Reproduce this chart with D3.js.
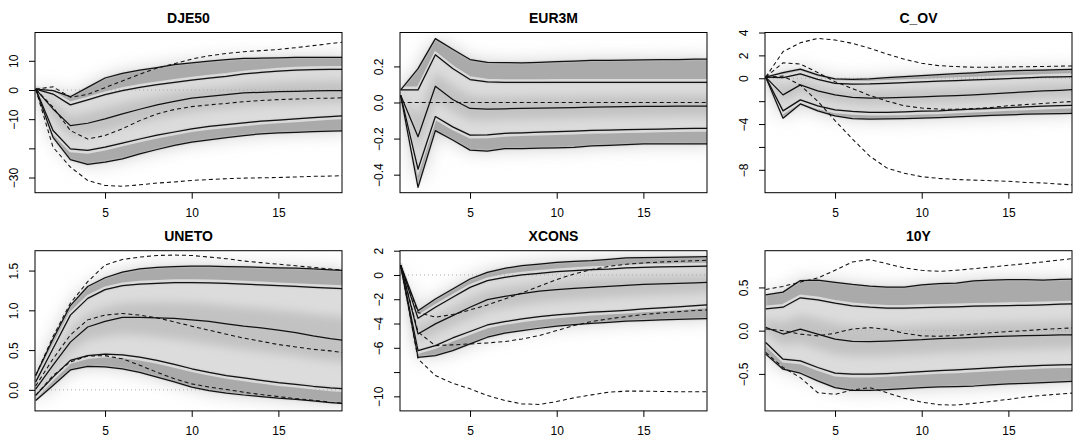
<!DOCTYPE html>
<html>
<head>
<meta charset="utf-8">
<script src="https://cdn.jsdelivr.net/npm/d3@7"></script>
<style>
  html, body { margin: 0; padding: 0; background: #ffffff; }
  svg { display: block; font-family: "Liberation Sans", Arial, Helvetica, sans-serif; }
</style>
</head>
<body>
<script>
// ---------------- DATA ----------------
const horizon = [1, 2, 3, 4, 5, 6, 7, 8, 9, 10, 11, 12, 13, 14, 15, 16, 17, 18, 19];
const xTicks = [5, 10, 15];
const panelNames = ["DJE50", "EUR3M", "C_OV", "UNETO", "XCONS", "10Y"];

// DJE50
const dje50_hi95 = [0.3, -0.2, -2.3, 0.9, 4.1, 5.7, 6.8, 7.7, 8.7, 9.3, 9.9, 10.4, 10.8, 10.9, 11.0, 11.2, 11.2, 11.2, 11.2];
const dje50_hi68 = [0.3, -1.4, -5.1, -3.4, -1.6, -0.2, 0.9, 1.8, 2.6, 3.4, 4.1, 4.7, 5.5, 6.0, 6.5, 6.8, 7.0, 7.1, 7.1];
const dje50_med  = [0.3, -6.5, -12.2, -11.4, -9.9, -8.2, -6.6, -5.1, -3.9, -2.8, -2.2, -1.6, -1.0, -0.8, -0.6, -0.5, -0.3, -0.25, -0.2];
const dje50_lo68 = [0.3, -13.9, -20.2, -20.7, -19.6, -18.2, -16.8, -15.5, -14.4, -13.3, -12.5, -11.9, -11.3, -10.7, -10.3, -9.9, -9.5, -9.1, -8.8];
const dje50_lo95 = [0.3, -16.2, -23.9, -25.5, -24.7, -23.6, -21.9, -20.4, -19.0, -17.9, -17.1, -16.3, -15.6, -15.0, -14.7, -14.5, -14.3, -14.1, -14.0];
const dje50_dashA = [0.3, 1.1, -2.5, -1.5, 0.8, 3.1, 5.4, 7.5, 9.0, 10.6, 11.7, 12.5, 13.1, 13.5, 13.9, 14.5, 15.2, 15.9, 16.6];
const dje50_dashB = [0.3, -5.9, -13.9, -16.8, -15.6, -13.3, -10.5, -8.2, -6.7, -5.7, -5.1, -4.6, -4.0, -3.6, -3.3, -3.1, -2.9, -2.8, -2.6];
const dje50_dashC = [0.3, -19.6, -26.4, -31.0, -32.7, -33.0, -32.5, -31.9, -31.5, -31.0, -30.7, -30.4, -30.2, -30.1, -30.0, -29.8, -29.6, -29.5, -29.3];
const dje50_yTicks = [-30, -20, -10, 0, 10];
const dje50_yLabels = ["\u221230", "", "\u221210", "0", "10"];

// EUR3M
const eur3m_hi95 = [0.07, 0.188, 0.354, 0.295, 0.238, 0.223, 0.221, 0.220, 0.223, 0.227, 0.230, 0.234, 0.234, 0.235, 0.236, 0.237, 0.238, 0.240, 0.240];
const eur3m_hi68 = [0.07, 0.07, 0.265, 0.188, 0.127, 0.114, 0.111, 0.111, 0.111, 0.112, 0.112, 0.112, 0.112, 0.112, 0.112, 0.112, 0.112, 0.112, 0.112];
const eur3m_med  = [0.04, -0.19, 0.09, 0.017, -0.033, -0.037, -0.035, -0.033, -0.031, -0.030, -0.028, -0.026, -0.024, -0.023, -0.022, -0.021, -0.020, -0.020, -0.020];
const eur3m_lo68 = [0.04, -0.37, -0.078, -0.135, -0.181, -0.180, -0.171, -0.168, -0.164, -0.162, -0.159, -0.155, -0.153, -0.151, -0.149, -0.147, -0.145, -0.144, -0.144];
const eur3m_lo95 = [0.04, -0.47, -0.156, -0.208, -0.264, -0.269, -0.256, -0.256, -0.253, -0.251, -0.249, -0.240, -0.238, -0.234, -0.230, -0.229, -0.229, -0.230, -0.230];
const eur3m_dashA = [0, 0, 0, 0, 0, 0, 0, 0, 0, 0, 0, 0, 0, 0, 0, 0, 0, 0, 0];
const eur3m_yTicks = [-0.4, -0.2, 0.0, 0.2];
const eur3m_yLabels = ["\u22120.4", "\u22120.2", "0.0", "0.2"];

// C_OV
const cov_hi95 = [0.1, 0.5, 0.8, 0.3, -0.06, -0.1, -0.05, 0.06, 0.15, 0.23, 0.32, 0.4, 0.48, 0.58, 0.64, 0.68, 0.72, 0.76, 0.78];
const cov_hi68 = [0.1, 0.06, 0.38, -0.1, -0.44, -0.52, -0.5, -0.44, -0.38, -0.32, -0.26, -0.2, -0.15, -0.09, -0.03, 0.03, 0.09, 0.12, 0.15];
const cov_med  = [0.1, -1.45, -0.58, -1.1, -1.45, -1.66, -1.74, -1.71, -1.68, -1.63, -1.57, -1.51, -1.45, -1.37, -1.28, -1.19, -1.1, -1.05, -0.98];
const cov_lo68 = [0.1, -2.85, -1.89, -2.41, -2.76, -2.9, -2.97, -2.97, -2.94, -2.88, -2.85, -2.76, -2.7, -2.64, -2.56, -2.5, -2.44, -2.38, -2.35];
const cov_lo95 = [0.1, -3.49, -2.24, -2.85, -3.28, -3.52, -3.58, -3.55, -3.52, -3.49, -3.43, -3.37, -3.31, -3.25, -3.2, -3.14, -3.11, -3.08, -3.05];
const cov_dashA = [0.1, 2.33, 3.1, 3.49, 3.34, 3.05, 2.62, 2.12, 1.66, 1.31, 1.1, 1.02, 0.96, 0.96, 0.99, 1.01, 1.03, 1.06, 1.08];
const cov_dashB = [0.1, 1.35, 1.25, 0.5, -0.3, -0.9, -1.5, -2.0, -2.4, -2.6, -2.7, -2.7, -2.65, -2.55, -2.4, -2.3, -2.2, -2.1, -2.0];
const cov_dashC = [0.1, 0.2, -0.6, -2.0, -3.7, -5.3, -6.8, -7.85, -8.3, -8.6, -8.75, -8.85, -8.9, -8.95, -9.0, -9.1, -9.15, -9.25, -9.35];
const cov_yTicks = [-8, -6, -4, -2, 0, 2, 4];
const cov_yLabels = ["\u22128", "", "\u22124", "", "0", "2", "4"];

// UNETO
const uneto_hi95 = [0.18, 0.64, 1.06, 1.30, 1.41, 1.48, 1.52, 1.54, 1.55, 1.555, 1.555, 1.55, 1.548, 1.54, 1.535, 1.53, 1.52, 1.51, 1.50];
const uneto_hi68 = [0.10, 0.52, 0.94, 1.15, 1.26, 1.31, 1.33, 1.34, 1.35, 1.35, 1.345, 1.34, 1.33, 1.32, 1.31, 1.30, 1.29, 1.28, 1.27];
const uneto_med  = [0.01, 0.31, 0.60, 0.79, 0.86, 0.91, 0.91, 0.905, 0.90, 0.88, 0.86, 0.83, 0.80, 0.78, 0.75, 0.72, 0.68, 0.645, 0.615];
const uneto_lo68 = [-0.07, 0.16, 0.37, 0.43, 0.45, 0.44, 0.41, 0.37, 0.32, 0.265, 0.22, 0.18, 0.15, 0.12, 0.09, 0.07, 0.045, 0.025, 0.01];
const uneto_lo95 = [-0.135, 0.055, 0.25, 0.295, 0.29, 0.265, 0.22, 0.16, 0.10, 0.035, -0.01, -0.04, -0.065, -0.085, -0.105, -0.12, -0.14, -0.16, -0.175];
const uneto_dashA = [0.18, 0.67, 1.09, 1.36, 1.57, 1.64, 1.67, 1.69, 1.695, 1.69, 1.67, 1.65, 1.62, 1.60, 1.58, 1.56, 1.54, 1.52, 1.50];
const uneto_dashB = [0.05, 0.39, 0.69, 0.88, 0.94, 0.96, 0.94, 0.905, 0.855, 0.80, 0.75, 0.70, 0.65, 0.61, 0.57, 0.54, 0.51, 0.49, 0.46];
const uneto_dashC = [-0.07, 0.18, 0.35, 0.425, 0.43, 0.39, 0.31, 0.22, 0.14, 0.075, 0.035, 0.005, -0.03, -0.06, -0.085, -0.11, -0.13, -0.155, -0.175];
const uneto_yTicks = [0, 0.5, 1.0, 1.5];
const uneto_yLabels = ["0.0", "0.5", "1.0", "1.5"];

// XCONS
const xcons_hi95 = [0.8, -2.94, -1.98, -1.15, -0.33, 0.22, 0.55, 0.77, 0.9, 1.04, 1.12, 1.18, 1.29, 1.40, 1.43, 1.45, 1.48, 1.50, 1.51];
const xcons_hi68 = [0.8, -3.57, -2.66, -1.84, -1.02, -0.47, -0.19, 0.0, 0.14, 0.27, 0.36, 0.44, 0.49, 0.58, 0.63, 0.66, 0.69, 0.71, 0.74];
const xcons_med  = [0.8, -4.86, -4.03, -3.35, -2.66, -2.03, -1.76, -1.54, -1.34, -1.21, -1.10, -1.02, -0.93, -0.85, -0.77, -0.73, -0.69, -0.65, -0.60];
const xcons_lo68 = [0.8, -6.23, -5.82, -5.19, -4.66, -4.12, -3.84, -3.62, -3.43, -3.29, -3.18, -3.07, -2.99, -2.91, -2.80, -2.72, -2.63, -2.53, -2.44];
const xcons_lo95 = [0.8, -6.78, -6.64, -6.23, -5.68, -5.13, -4.80, -4.58, -4.39, -4.22, -4.09, -3.98, -3.90, -3.81, -3.76, -3.70, -3.65, -3.62, -3.59];
const xcons_dashA = [0.8, -3.1, -3.48, -3.26, -2.88, -2.47, -1.98, -1.48, -0.93, -0.38, 0.08, 0.44, 0.71, 0.88, 0.99, 1.07, 1.12, 1.18, 1.23];
const xcons_dashB = [0.8, -4.7, -5.82, -5.76, -5.68, -5.6, -5.49, -5.27, -4.99, -4.58, -4.17, -3.84, -3.62, -3.43, -3.26, -3.13, -3.02, -2.93, -2.85];
const xcons_dashC = [0.8, -6.91, -8.29, -8.92, -9.38, -9.93, -10.34, -10.62, -10.67, -10.43, -10.12, -9.88, -9.66, -9.57, -9.57, -9.6, -9.62, -9.63, -9.63];
const xcons_yTicks = [-10, -8, -6, -4, -2, 0, 2];
const xcons_yLabels = ["\u221210", "", "\u22126", "\u22124", "\u22122", "0", "2"];

// 10Y
const y10_hi95 = [0.415, 0.446, 0.58, 0.585, 0.56, 0.535, 0.515, 0.504, 0.504, 0.53, 0.543, 0.55, 0.577, 0.585, 0.589, 0.589, 0.585, 0.593, 0.597];
const y10_hi68 = [0.252, 0.271, 0.38, 0.357, 0.318, 0.287, 0.271, 0.26, 0.26, 0.267, 0.271, 0.275, 0.283, 0.286, 0.29, 0.294, 0.298, 0.306, 0.31];
const y10_med  = [0.039, -0.039, 0.019, -0.039, -0.097, -0.124, -0.128, -0.12, -0.112, -0.105, -0.093, -0.085, -0.078, -0.07, -0.062, -0.058, -0.054, -0.05, -0.047];
const y10_lo68 = [-0.136, -0.33, -0.349, -0.426, -0.492, -0.504, -0.504, -0.496, -0.484, -0.473, -0.461, -0.453, -0.442, -0.43, -0.419, -0.41, -0.4, -0.395, -0.391];
const y10_lo95 = [-0.271, -0.446, -0.492, -0.581, -0.659, -0.69, -0.69, -0.682, -0.671, -0.659, -0.651, -0.647, -0.64, -0.628, -0.616, -0.609, -0.601, -0.593, -0.585];
const y10_dashA = [0.477, 0.512, 0.562, 0.609, 0.698, 0.795, 0.822, 0.775, 0.725, 0.698, 0.686, 0.698, 0.717, 0.736, 0.756, 0.775, 0.795, 0.818, 0.841];
const y10_dashB = [0.02, 0.0, -0.04, -0.06, -0.03, 0.02, 0.035, 0.015, -0.03, -0.06, -0.065, -0.055, -0.04, -0.025, -0.01, 0.0, 0.015, 0.025, 0.035];
const y10_dashC = [-0.252, -0.426, -0.543, -0.717, -0.736, -0.686, -0.659, -0.717, -0.783, -0.826, -0.857, -0.86, -0.841, -0.818, -0.795, -0.767, -0.748, -0.733, -0.717];
const y10_yTicks = [-0.5, 0.0, 0.5];
const y10_yLabels = ["\u22120.5", "0.0", "0.5"];

// ---------------- PANEL TABLE (built from the arrays) ----------------
const panels = [
  { name: panelNames[0], col: 0, row: 0, yDomain: [-35.2, 19.7], hi95: dje50_hi95, hi68: dje50_hi68, med: dje50_med, lo68: dje50_lo68, lo95: dje50_lo95, dashed: [dje50_dashA, dje50_dashB, dje50_dashC], yTicks: dje50_yTicks, yLabels: dje50_yLabels },
  { name: panelNames[1], col: 1, row: 0, yDomain: [-0.50, 0.388], hi95: eur3m_hi95, hi68: eur3m_hi68, med: eur3m_med, lo68: eur3m_lo68, lo95: eur3m_lo95, dashed: [eur3m_dashA], yTicks: eur3m_yTicks, yLabels: eur3m_yLabels },
  { name: panelNames[2], col: 2, row: 0, yDomain: [-10.0, 4.0], hi95: cov_hi95, hi68: cov_hi68, med: cov_med, lo68: cov_lo68, lo95: cov_lo95, dashed: [cov_dashA, cov_dashB, cov_dashC], yTicks: cov_yTicks, yLabels: cov_yLabels },
  { name: panelNames[3], col: 0, row: 1, yDomain: [-0.265, 1.75], hi95: uneto_hi95, hi68: uneto_hi68, med: uneto_med, lo68: uneto_lo68, lo95: uneto_lo95, dashed: [uneto_dashA, uneto_dashB, uneto_dashC], yTicks: uneto_yTicks, yLabels: uneto_yLabels },
  { name: panelNames[4], col: 1, row: 1, yDomain: [-11.2, 2.0], hi95: xcons_hi95, hi68: xcons_hi68, med: xcons_med, lo68: xcons_lo68, lo95: xcons_lo95, dashed: [xcons_dashA, xcons_dashB, xcons_dashC], yTicks: xcons_yTicks, yLabels: xcons_yLabels },
  { name: panelNames[5], col: 2, row: 1, yDomain: [-0.928, 0.925], hi95: y10_hi95, hi68: y10_hi68, med: y10_med, lo68: y10_lo68, lo95: y10_lo95, dashed: [y10_dashA, y10_dashB, y10_dashC], yTicks: y10_yTicks, yLabels: y10_yLabels }
];

// ---------------- LAYOUT ----------------
const W = 1073, H = 438;
const colLeft = [35, 400, 765];
const rowTop = [32.5, 250.7];
const plotW = 307, plotH = 160.2;
const xDomain = [0.96, 18.67];

const svg = d3.select("body").append("svg").attr("width", W).attr("height", H);
const defs = svg.append("defs");
function blurFilter(id, sd) {
  defs.append("filter").attr("id", id)
    .attr("x", "-50%").attr("y", "-50%").attr("width", "200%").attr("height", "200%")
    .append("feGaussianBlur").attr("stdDeviation", sd);
}
blurFilter("blurWide", 9);
blurFilter("blurMid", 5);
blurFilter("blurSoft", 1.1);

panels.forEach((p, pi) => {
  const left = colLeft[p.col], top = rowTop[p.row];
  const x = d3.scaleLinear().domain(xDomain).range([left, left + plotW]);
  const y = d3.scaleLinear().domain(p.yDomain).range([top + plotH, top]);

  const clipId = "clip" + pi;
  defs.append("clipPath").attr("id", clipId)
    .append("rect").attr("x", left).attr("y", top).attr("width", plotW).attr("height", plotH);

  const g = svg.append("g").attr("clip-path", `url(#${clipId})`);
  const idx = horizon.map((h, i) => i);

  const band = (lo, hi) => d3.area()
    .x(i => x(horizon[i])).y0(i => y(lo[i])).y1(i => y(hi[i]));
  const line = (arr) => d3.line().x(i => x(horizon[i])).y(i => y(arr[i]));

  // soft glow of the whole fan
  g.append("path").attr("d", band(p.lo95, p.hi95)(idx))
    .attr("fill", "#cdcdcd").attr("filter", "url(#blurWide)");
  // inner region
  g.append("path").attr("d", band(p.lo68, p.hi68)(idx))
    .attr("fill", "#dcdcdc").attr("filter", "url(#blurSoft)");
  // darker core around the median
  const coreLo = p.med.map((m, i) => m - 0.45 * (m - p.lo68[i]));
  const coreHi = p.med.map((m, i) => m + 0.45 * (p.hi68[i] - m));
  g.append("path").attr("d", band(coreLo, coreHi)(idx))
    .attr("fill", "#c2c2c2").attr("filter", "url(#blurMid)");
  // darker outer bands
  g.append("path").attr("d", band(p.hi68, p.hi95)(idx))
    .attr("fill", "#aaaaaa").attr("filter", "url(#blurSoft)");
  g.append("path").attr("d", band(p.lo95, p.lo68)(idx))
    .attr("fill", "#aaaaaa").attr("filter", "url(#blurSoft)");
  // light strips along inner lines (on the band side)
  g.append("path").attr("d", line(p.hi68)(idx)).attr("transform", "translate(0,-2)")
    .attr("fill", "none").attr("stroke", "#dadada").attr("stroke-width", 2.6);
  g.append("path").attr("d", line(p.lo68)(idx)).attr("transform", "translate(0,2)")
    .attr("fill", "none").attr("stroke", "#dadada").attr("stroke-width", 2.6);

  // zero reference line
  g.append("line").attr("x1", left).attr("x2", left + plotW)
    .attr("y1", y(0)).attr("y2", y(0))
    .attr("stroke", "#aaaaaa").attr("stroke-width", 1).attr("stroke-dasharray", "1,3");

  // solid quantile lines
  [p.hi95, p.hi68, p.med, p.lo68, p.lo95].forEach(arr => {
    g.append("path").attr("d", line(arr)(idx))
      .attr("fill", "none").attr("stroke", "#111").attr("stroke-width", 1.25)
      .attr("stroke-linejoin", "round");
  });
  // dashed lines
  p.dashed.forEach(arr => {
    g.append("path").attr("d", line(arr)(idx))
      .attr("fill", "none").attr("stroke", "#111").attr("stroke-width", 1.05)
      .attr("stroke-dasharray", "4,3");
  });

  // box
  svg.append("rect").attr("x", left).attr("y", top).attr("width", plotW).attr("height", plotH)
    .attr("fill", "none").attr("stroke", "#000").attr("stroke-width", 1);

  // y axis
  const yAxis = svg.append("g").attr("transform", `translate(${left},0)`)
    .call(d3.axisLeft(y).tickValues(p.yTicks).tickSize(6).tickFormat((d, i) => p.yLabels[i]));
  yAxis.select(".domain").remove();
  yAxis.selectAll(".tick line").attr("stroke", "#000");
  yAxis.selectAll(".tick text")
    .attr("x", null).attr("dy", "0.35em")
    .attr("transform", "translate(-21,0) rotate(-90)")
    .attr("text-anchor", "middle")
    .attr("fill", "#000").attr("font-size", 12).attr("font-family", null);

  // x axis
  const xAxis = svg.append("g").attr("transform", `translate(0,${top + plotH})`)
    .call(d3.axisBottom(x).tickValues(xTicks).tickSize(6).tickPadding(10).tickFormat(d3.format("d")));
  xAxis.select(".domain").remove();
  xAxis.selectAll(".tick line").attr("stroke", "#000");
  xAxis.selectAll(".tick text").attr("fill", "#000").attr("font-size", 12).attr("font-family", null);

  // title
  svg.append("text").attr("x", left + plotW / 2).attr("y", top - 10)
    .attr("text-anchor", "middle").attr("font-weight", "bold").attr("font-size", 14)
    .attr("fill", "#000")
    .text(p.name);
});
</script>
</body>
</html>
